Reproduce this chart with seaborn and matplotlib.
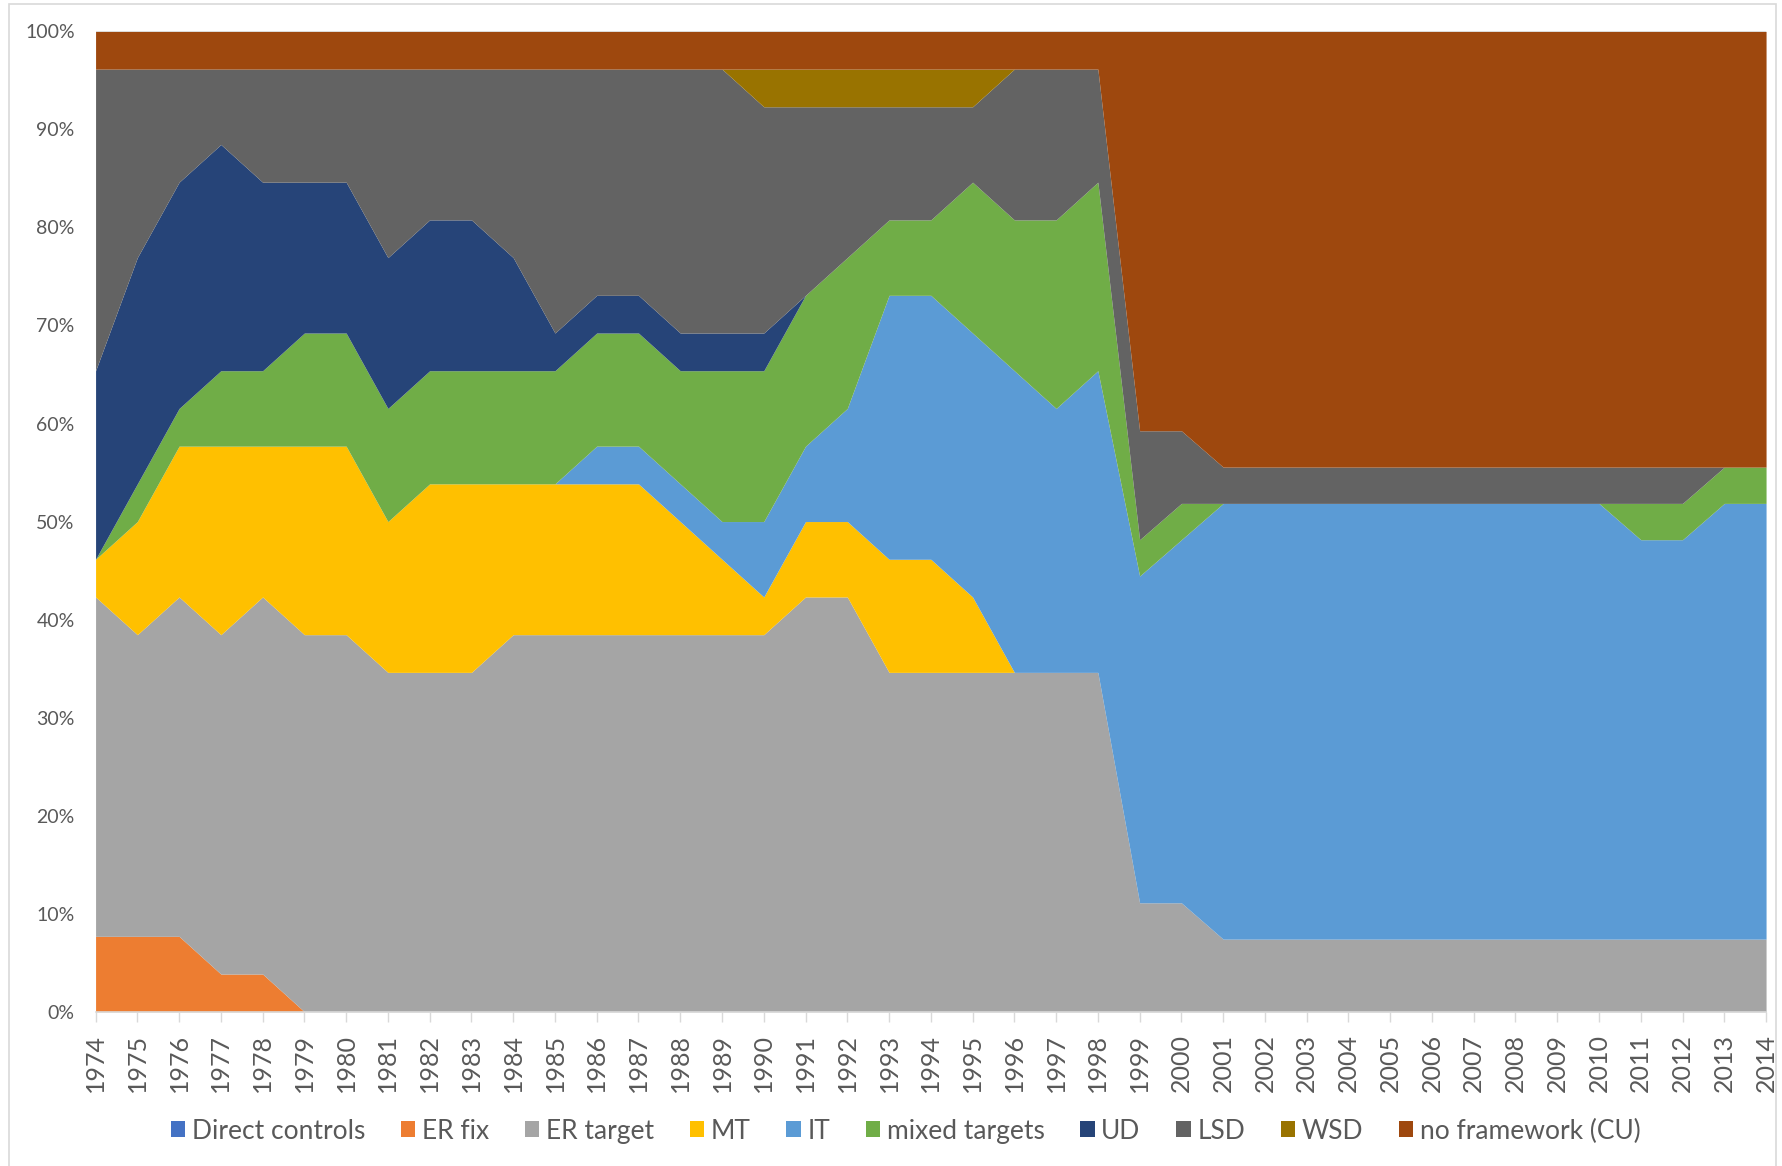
import numpy as np
import pandas as pd
import matplotlib
matplotlib.use("Agg")
import matplotlib.pyplot as plt
from matplotlib.patches import Patch, Rectangle
from matplotlib.ticker import PercentFormatter
import seaborn as sns

# 数据：每年各类货币政策框架的国家数量（1999年起样本为27国）
years = list(range(1974, 2015))

direct_controls = [0] * 41
er_fix = [2, 2, 2, 1, 1] + [0] * 36
er_target = [9, 8, 9, 9, 10, 10, 10, 9, 9, 9, 10, 10, 10, 10, 10, 10, 10, 11, 11,
             9, 9, 9, 9, 9, 9, 3, 3] + [2] * 14
mt = [1, 3, 4, 5, 4, 5, 5, 4, 5, 5, 4, 4, 4, 4, 3, 2, 1, 2, 2, 3, 3, 2] + [0] * 19
it = [0] * 12 + [1, 1, 1, 1, 2, 2, 3, 7, 7, 7, 8, 7, 8, 9, 10] + [12] * 10 + [11, 11, 12, 12]
mixed_targets = [0, 1, 1, 2, 2, 3, 3, 3, 3, 3, 3, 3, 3, 3, 3, 4, 4, 4, 4, 2, 2, 4, 4, 5, 5,
                 1, 1] + [0] * 10 + [1, 1, 1, 1]
ud = [5, 6, 6, 6, 5, 4, 4, 4, 4, 4, 3, 1, 1, 1, 1, 1, 1] + [0] * 24
lsd = [8, 5, 3, 2, 3, 3, 3, 5, 4, 4, 5, 7, 6, 6, 7, 7, 6, 5, 4, 3, 3, 2, 4, 4, 3,
       3, 2] + [1] * 12 + [0, 0]
wsd = [0] * 16 + [1] * 6 + [0] * 19
no_framework = [1] * 25 + [11, 11] + [12] * 14

labels = ["Direct controls", "ER fix", "ER target", "MT", "IT", "mixed targets",
          "UD", "LSD", "WSD", "no framework (CU)"]
colors = ["#4472C4", "#ED7D31", "#A5A5A5", "#FFC000", "#5B9BD5", "#70AD47",
          "#264478", "#636363", "#997300", "#9E480E"]

df = pd.DataFrame(
    np.array([direct_controls, er_fix, er_target, mt, it, mixed_targets,
              ud, lsd, wsd, no_framework]).T,
    index=years, columns=labels)
shares = df.div(df.sum(axis=1), axis=0)

sns.set_theme(style="white")
plt.rcParams["font.family"] = ["Lato", "DejaVu Sans"]
text_color = "#595959"
axis_color = "#D9D9D9"

fig = plt.figure(figsize=(17.83, 11.66), dpi=100)
ax = fig.add_axes([0.0536, 0.1323, 0.9369, 0.8408])

ax.stackplot(shares.index, *[shares[c].values for c in labels],
             colors=colors, linewidth=0, labels=labels)
ax.axhline(1.0, color=axis_color, lw=1.2, zorder=5)

ax.set_xlim(years[0], years[-1])
ax.set_ylim(0, 1)
ax.set_xticks(years)
ax.set_xticklabels([str(y) for y in years], rotation=90, fontsize=18, color=text_color)
ax.set_yticks(np.linspace(0, 1, 11))
ax.yaxis.set_major_formatter(PercentFormatter(1.0, decimals=0))
ax.tick_params(axis="y", length=0, labelsize=14, labelcolor=text_color, pad=15)
ax.tick_params(axis="x", length=7, width=1, color=axis_color, pad=9, bottom=True)

sns.despine(ax=ax, left=True, top=True, right=True)
ax.spines["bottom"].set_color(axis_color)
ax.spines["bottom"].set_linewidth(1.2)
ax.grid(False)

handles = [Patch(facecolor=c, edgecolor="none") for c in colors]
fig.legend(handles, labels, loc="center", bbox_to_anchor=(0.508, 0.030), ncol=10,
           frameon=False, fontsize=19, labelcolor=text_color,
           handlelength=0.55, handleheight=0.55, handletextpad=0.25, columnspacing=1.35)

# 图表外框
fig.patches.append(Rectangle((9 / 1783, -0.01), 1767 / 1783, 1 - 4 / 1166 + 0.01,
                             transform=fig.transFigure, fill=False,
                             edgecolor=axis_color, lw=1.2))

fig.savefig("out.png", dpi=100)
plt.close(fig)
